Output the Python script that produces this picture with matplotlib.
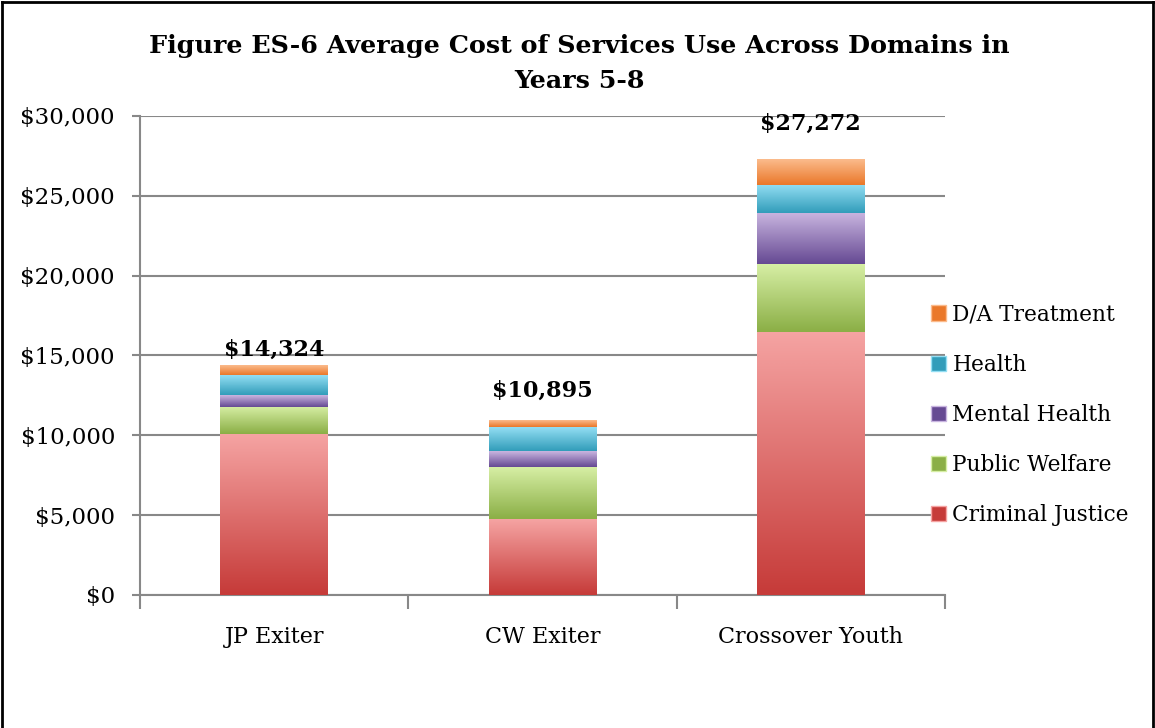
import numpy as np
import matplotlib
matplotlib.use("Agg")
import matplotlib.pyplot as plt
from matplotlib.colors import LinearSegmentedColormap
from matplotlib.patches import Patch
from matplotlib.lines import Line2D

# data
groups = ["JP Exiter", "CW Exiter", "Crossover Youth"]
series = ["Criminal Justice", "Public Welfare", "Mental Health", "Health", "D/A Treatment"]
criminal_justice = [10060, 4750, 16500]
public_welfare = [1740, 3250, 4200]
mental_health = [700, 1000, 3200]
health = [1250, 1500, 1800]
da_treatment = [574, 395, 1572]
totals = [14324, 10895, 27272]

# light (top) / dark (bottom) per series
shades = [("#F5A3A2", "#C63B39"),
          ("#D6EEA4", "#8BAF46"),
          ("#C9B5E0", "#664A93"),
          ("#93DEF3", "#329DBA"),
          ("#FBBB8C", "#EA782A")]
# the total labels sit at uneven heights above the bars (points)
label_gap = [4, 14, 18]

plt.rcParams["font.family"] = ["DejaVu Serif"]

fig = plt.figure(figsize=(11.55, 7.28), dpi=100)
ax = fig.add_axes([0.1212, 0.1827, 0.697, 0.658])

x = np.arange(len(groups))
w = 0.4
values = [criminal_justice, public_welfare, mental_health, health, da_treatment]
bottom = np.zeros(len(groups))
grad = np.linspace(1, 0, 64).reshape(-1, 1)
for vals, (light, dark) in zip(values, shades):
    cmap = LinearSegmentedColormap.from_list("g", [dark, light])
    for i in range(len(groups)):
        ax.imshow(grad, cmap=cmap, aspect="auto", zorder=3,
                  extent=(x[i] - w / 2, x[i] + w / 2, bottom[i], bottom[i] + vals[i]),
                  interpolation="bilinear")
    bottom += np.array(vals)

for i, t in enumerate(totals):
    ax.annotate("${:,}".format(t), (x[i], t), xytext=(0, label_gap[i]),
                textcoords="offset points", ha="center", va="bottom",
                fontsize=16, fontweight="bold", zorder=5)

ax.set_xlim(-0.5, 2.5)
ax.set_ylim(0, 30000)
ax.set_yticks(np.arange(0, 30001, 5000))
ax.set_yticklabels(["${:,}".format(v) for v in range(0, 30001, 5000)], fontsize=16.5)
ax.set_xticks(x)
ax.set_xticklabels(groups, fontsize=16)
ax.set_xticks([-0.5, 0.5, 1.5, 2.5], minor=True)
ax.tick_params(axis="x", which="major", length=0, pad=22)
ax.tick_params(axis="x", which="minor", length=10, color="#888888", width=1.5)
ax.tick_params(axis="y", length=6, color="#888888", width=1.5, pad=12)
ax.grid(axis="y", color="#888888", linewidth=1.5, zorder=1)
ax.set_axisbelow(True)
for s in ["top", "right"]:
    ax.spines[s].set_visible(False)
for s in ["left", "bottom"]:
    ax.spines[s].set_color("#888888")
    ax.spines[s].set_linewidth(1.5)

handles = [Patch(facecolor=dark, edgecolor=light) for light, dark in shades]
leg = fig.legend(handles[::-1], series[::-1], loc="center left",
                 bbox_to_anchor=(0.789, 0.43), frameon=False, fontsize=15.6,
                 handlelength=0.7, handleheight=0.7, handletextpad=0.3,
                 labelspacing=1.3)

fig.text(0.502, 0.913, "Figure ES-6 Average Cost of Services Use Across Domains in\nYears 5-8",
         ha="center", va="center", fontsize=18.3, fontweight="bold", linespacing=1.55)

# outer frame
for xs, ys in [((0.002, 0.002), (0, 0.997)), ((0.002, 0.998), (0.997, 0.997)),
               ((0.998, 0.998), (0, 0.997))]:
    fig.add_artist(Line2D(xs, ys, color="black", linewidth=2, transform=fig.transFigure))

fig.savefig("out.png", dpi=100)
